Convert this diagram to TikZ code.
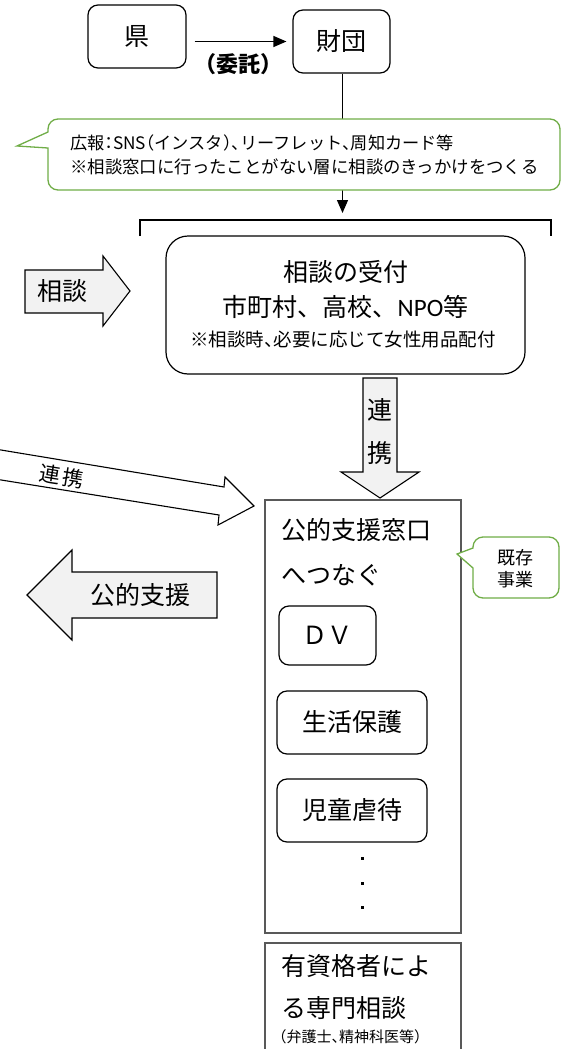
\documentclass[tikz,border=0pt]{standalone}
\usepackage{fontspec}
\setmainfont{Noto Sans CJK JP}
\newfontfamily\jph[RawFeature=+halt]{Noto Sans CJK JP}
\newfontfamily\lat{Carlito}
\usetikzlibrary{arrows.meta}
\definecolor{fillgray}{HTML}{F2F2F2}
\definecolor{cgreen}{HTML}{70AD47}
\definecolor{fgray}{HTML}{595959}
\newcommand\fs[1]{\fontsize{#1}{#1}\selectfont}
\begin{document}
\begin{tikzpicture}[x=1pt,y=-1pt,
  box/.style={draw, line width=1.2pt, rounded corners=10pt, inner sep=0pt, font=\fs{25}},
  txt/.style={inner sep=0pt, font=\fs{25}},
  fat/.style={draw, line width=1.1pt, fill=fillgray, line join=miter},
  callout/.style={draw=cgreen, line width=1.3pt, fill=white},
  frame/.style={draw=fgray, line width=1.5pt},
  arr/.style={line width=1.3pt, -{Triangle[length=13pt,width=11pt]}}]
\useasboundingbox (0,0) rectangle (569,1049);

% top boxes
\node[box, minimum width=98pt, minimum height=63pt] (ken) at (137,36.5) {県};
\node[box, minimum width=97pt, minimum height=63pt] (zaidan) at (341.5,41.5) {財団};
\draw[arr, shorten >=6pt] ([xshift=8pt]ken.east |- zaidan.west) -- (zaidan.west);
\node[inner sep=0pt, font=\fs{22}\bfseries] (itaku) at (238,64) {（委託）};

% bracket
\coordinate (brkmid) at (342.5,220);
\draw[line width=1.2pt] (140,236) -- (140,220) -- (551,220) -- (551,236);
\draw[arr, shorten >=7pt] ([xshift=1pt]zaidan.south) -- (brkmid);

% callout 1
\draw[callout] (17,146) -- (48,132) [rounded corners=10pt] -- (48,119) -- (560,119) -- (560,190) -- (48,190) [sharp corners] -- (48,148) -- cycle;
\node[anchor=west, inner sep=0pt, font=\jph\fs{17.2}] (pr1) at (70,143) {広報：SNS（インスタ）、リーフレット、周知カード等};
\node[anchor=west, inner sep=0pt, font=\fs{17.4}] (pr2) at (70,167) {※相談窓口に行ったことがない層に相談のきっかけをつくる};

% reception box
\node[draw, line width=1.2pt, rounded corners=22pt, minimum width=359pt, minimum height=138pt] (uketsuke) at (345.5,305) {};
\node[txt] (u1) at (345.5,272) {相談の受付};
\node[txt] (u2) at (345.5,307) {市町村、高校、{\lat NPO}等};
\node[inner sep=0pt, font=\jph\fs{18.5}] (u3) at (343,340) {※相談時、必要に応じて女性用品配付};

% 相談 arrow
\draw[fat] (25,270) -- (103,270) -- (103,256) -- (130,291) -- (103,326) -- (103,313) -- (25,313) -- cycle;
\node[txt] (soudan) at (62,291) {相談};

% vertical 連携 arrow
\draw[fat] (363,378) -- (397,378) -- (397,472) -- (419,472) -- (380,498) -- (341,472) -- (363,472) -- cycle;
\node[txt] (ren1) at (380,410) {連};
\node[txt] (ren2) at (380,453) {携};

% diagonal 連携 arrow
\draw[line width=1.1pt, fill=white, line join=miter] (-5,449) -- (224,487) -- (225,477) -- (254,506) -- (218,525) -- (219,515) -- (-5,479) -- cycle;
\node[inner sep=0pt, font=\fs{21}, rotate=-9.2] (renkeiA) at (50.5,474.2) {連};
\node[inner sep=0pt, font=\fs{21}, rotate=-9.2] (renkeiB) at (73.5,477.9) {携};

% 公的支援 arrow
\draw[fat] (217,572) -- (72,572) -- (72,550) -- (27,595) -- (72,640) -- (72,618) -- (217,618) -- cycle;
\node[txt] (koteki) at (140,595) {公的支援};

% public support frame
\node[frame, minimum width=196pt, minimum height=433pt] (madoguchi) at (363,716.5) {};
\node[txt, anchor=west] (m1) at (281,530) {公的支援窓口};
\node[txt, anchor=west] (m2) at (281,575) {へつなぐ};

% callout 既存事業
\draw[callout] (457,554) -- (473,548) [rounded corners=10pt] -- (473,537) -- (559,537) -- (559,598) -- (473,598) [sharp corners] -- (473,568) -- cycle;
\node[inner sep=0pt, font=\fs{18}, align=center] (kizon) at (515,569) {既存\\[4pt]事業};

% inner boxes
\node[box, minimum width=97pt, minimum height=59pt] (dv) at (327.5,635.5) {ＤＶ};
\node[box, minimum width=150pt, minimum height=63pt] (seikatsu) at (352,722.5) {生活保護};
\node[box, minimum width=150pt, minimum height=63pt] (jido) at (352,810.5) {児童虐待};

% dots
\fill (360.5,856.5) rectangle +(3,3);
\fill (360.5,881.5) rectangle +(3,3);
\fill (360.5,905.5) rectangle +(3,3);

% qualified persons box
\draw[frame] (265,1055) -- (265,943) -- (461,943) -- (461,1055);
\node[txt, anchor=west] (q1) at (281,966) {有資格者によ};
\node[txt, anchor=west] (q2) at (281,1008) {る専門相談};
\node[anchor=west, inner sep=0pt, font=\jph\fs{15}] (q3) at (279,1037) {（弁護士、精神科医等）};
\end{tikzpicture}
\end{document}
